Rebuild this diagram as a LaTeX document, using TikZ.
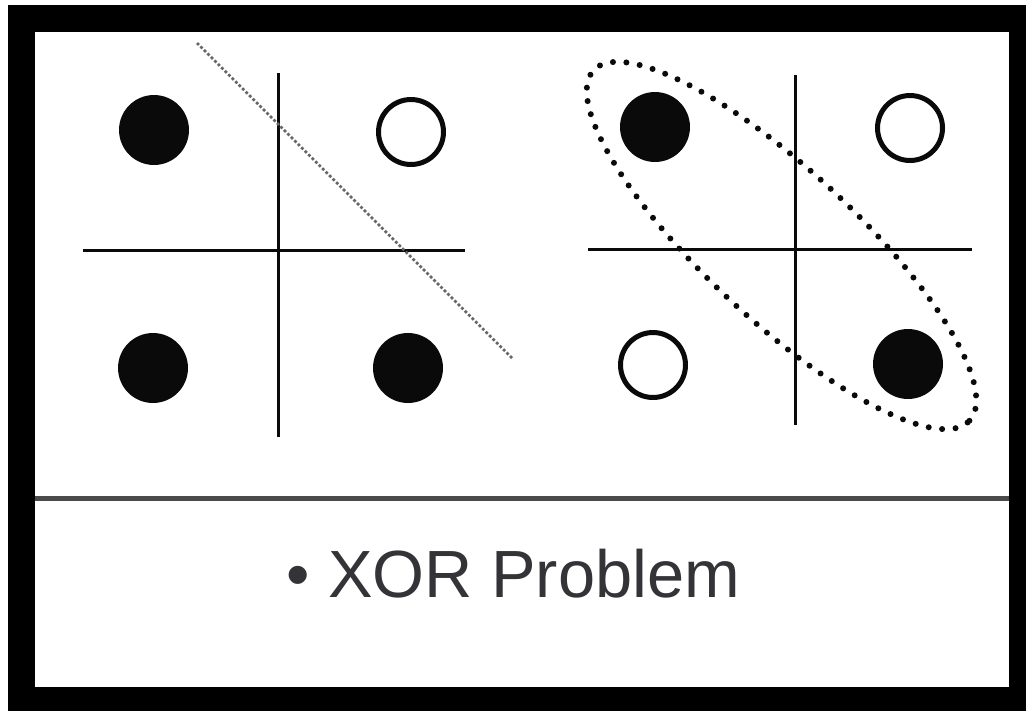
\documentclass[tikz,border=0pt]{standalone}
\usepackage{fontspec}
\newfontfamily\captionfont{Liberation Sans}
\usetikzlibrary{calc}
\definecolor{inkgray}{HTML}{0A0A0A}
\definecolor{rulegray}{HTML}{4A4A4A}
\definecolor{textgray}{HTML}{333338}
\tikzset{
    filled/.style={circle, fill=inkgray, draw=none, minimum size=1.4cm, inner sep=0pt},
    hollow/.style={circle, draw=inkgray, line width=0.1cm, fill=white,
                   minimum size=1.3cm, inner sep=0pt},
    axis/.style={draw=inkgray, line width=0.06cm},
    splitline/.style={draw=black!60, line width=0.055cm, dash pattern=on 1.6pt off 1.2pt},
    cluster/.style={draw=inkgray, line width=0.12cm, line cap=round,
                    dash pattern=on 0pt off 0.27cm},
    separator/.style={draw=rulegray, line width=0.1cm},
    caption/.style={font=\captionfont\fontsize{38}{44}\selectfont, text=textgray,
                    inner sep=0pt, anchor=base west},
}

\begin{document}
\begin{tikzpicture}[x=0.02cm, y=-0.02cm]
    \useasboundingbox (0,0) rectangle (1026,711);
    \fill[white] (0,0) rectangle (1026,711);
    \fill[black] (8,5) rectangle (1026,711);
    \fill[white] (35,32) rectangle (1009,687);

    % left panel
    \draw[axis] (278,73) -- (278,437);
    \draw[axis] (83,250) -- (465,250);
    \node[filled] (ltl) at (154,130) {};
    \node[hollow] (ltr) at (411,132) {};
    \node[filled] (lbl) at (153,368) {};
    \node[filled] (lbr) at (408,368) {};
    \coordinate (cutstart) at (197,43);
    \coordinate (cutend) at (512,358);
    \draw[splitline] (cutstart) -- (cutend);

    % right panel
    \draw[axis] (795,75) -- (795,425);
    \draw[axis] (588,249) -- (972,249);
    \node[filled] (rtl) at (655,127) {};
    \node[hollow] (rtr) at (910,128) {};
    \node[hollow] (rbl) at (653,365) {};
    \node[filled] (rbr) at (908,364) {};
    \coordinate (mid) at ($(rtl)!0.5!(rbr)$);
    \draw[cluster, rotate around={-43:(mid)}] (mid) ellipse [x radius=5.14cm, y radius=1.5cm];

    \draw[separator] (35,498) -- (1009,498);
    \node[caption] (title) at (286,597) {• XOR Problem};
\end{tikzpicture}
\end{document}
